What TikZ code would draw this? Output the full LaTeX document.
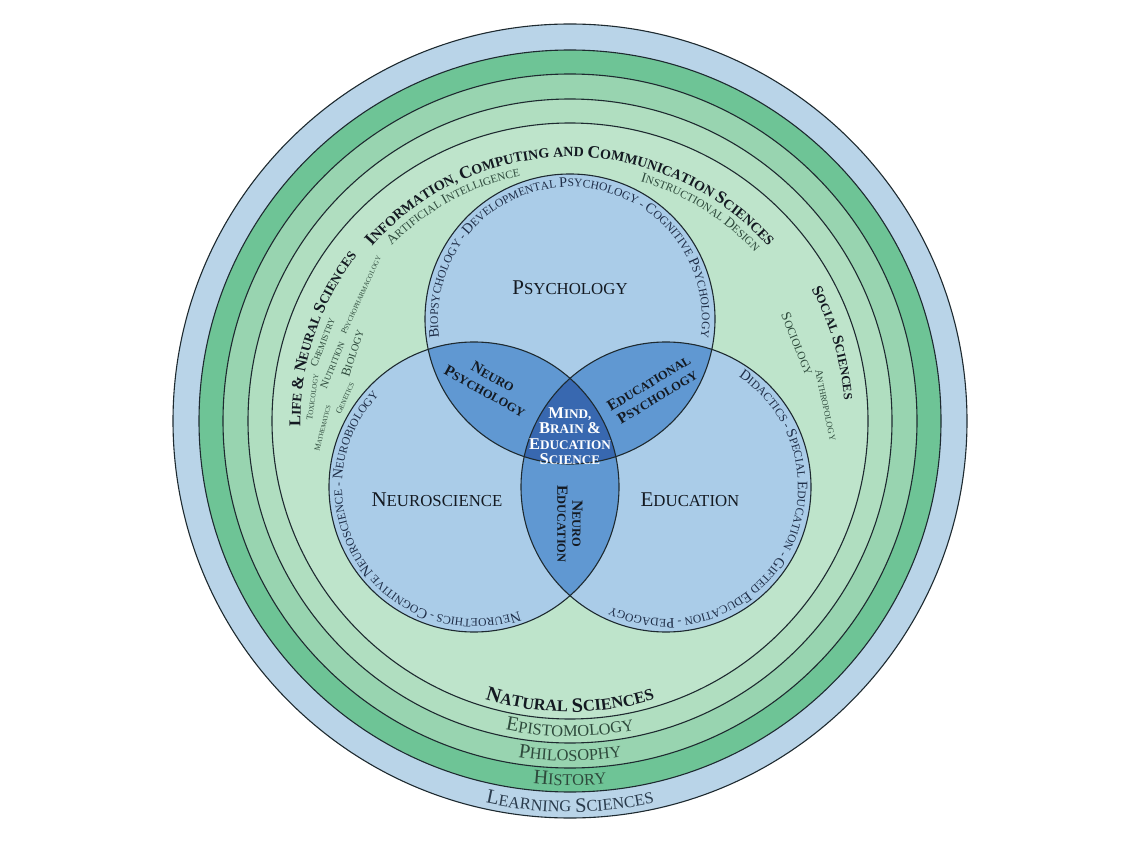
\documentclass[tikz,border=0pt]{standalone}
\usepackage{fontspec}
\setmainfont{Liberation Serif}
\usetikzlibrary{decorations.text}
\definecolor{lsblue}{HTML}{B9D4E8}
\definecolor{histg}{HTML}{6EC496}
\definecolor{philg}{HTML}{98D4B0}
\definecolor{episg}{HTML}{B0DEC0}
\definecolor{natg}{HTML}{BEE4CB}
\definecolor{vlight}{HTML}{AACCE8}
\definecolor{vmid}{HTML}{6098D2}
\definecolor{vdark}{HTML}{3868B0}
\definecolor{edge}{HTML}{1E2A30}
\definecolor{tdark}{HTML}{141A22}
\definecolor{tnavy}{HTML}{1F2E48}
\definecolor{tgreen}{HTML}{2E4A3C}
\definecolor{tslate}{HTML}{2A3B4C}
\newcommand\Tx[3]{#1\color{#2}\fontsize{#3}{#3}\selectfont}
\newcommand\Fz[2]{\fontsize{#1}{#2}\selectfont}
\newcommand\arctext[5]{\path[decorate,decoration={text along path,text align=center,text={#5}}] (#1) ++(#3:#2) arc[start angle=#3,end angle=#4,radius=#2];}
\newcommand\bigN{\Tx\mdseries{tnavy}{14.5}}
\newcommand\smN{\Tx\mdseries{tnavy}{11.6}}
\newcommand\bigG{\Tx\mdseries{tgreen}{20.5}}
\newcommand\smG{\Tx\mdseries{tgreen}{16.4}}
\newcommand\bigD{\Tx\bfseries{tdark}{20.5}}
\newcommand\smD{\Tx\bfseries{tdark}{16.4}}
\newcommand\bigI{\Tx\bfseries{tdark}{17.5}}
\newcommand\smI{\Tx\bfseries{tdark}{14}}
\newcommand\bigL{\Tx\bfseries{tdark}{16.5}}
\newcommand\smL{\Tx\bfseries{tdark}{13.2}}
\newcommand\bigS{\Tx\bfseries{tdark}{15.5}}
\newcommand\smS{\Tx\bfseries{tdark}{12.4}}
\newcommand\bigA{\Tx\mdseries{tgreen}{14}}
\newcommand\smA{\Tx\mdseries{tgreen}{11.2}}
\begin{document}
\begin{tikzpicture}[x=1pt,y=1pt,
  ring/.style={draw=edge,line width=1.1pt},
  venn/.style={draw=edge,line width=1.1pt},
  sm/.style={inner sep=0pt,text=tgreen},
  vlabel/.style={inner sep=0pt,text=tdark},
  lens/.style={inner sep=0pt,text=tdark,align=center,font=\bfseries\fontsize{15.5}{16.5}\selectfont},
  lensv/.style={inner sep=0pt,text=tdark,align=center,font=\bfseries\fontsize{15.5}{15}\selectfont},
  mbe/.style={inner sep=0pt,text=white,align=center,font=\bfseries\fontsize{16.5}{15.5}\selectfont}]
\useasboundingbox (0,0) rectangle (1140,855);
\fill[white] (0,0) rectangle (1140,855);
\coordinate (C) at (570,434);
% rings
\path[ring,fill=lsblue] (C) circle[radius=397];
\path[ring,fill=histg] (C) circle[radius=371];
\path[ring,fill=philg] (C) circle[radius=347];
\path[ring,fill=episg] (C) circle[radius=322];
\path[ring,fill=natg] (C) circle[radius=298];
% venn
\coordinate (P) at (570,536);
\coordinate (N) at (474,368);
\coordinate (E) at (666,368);
\def\vr{145}
\fill[vlight] (P) circle[radius=\vr];
\fill[vlight] (N) circle[radius=\vr];
\fill[vlight] (E) circle[radius=\vr];
\begin{scope}
  \clip (P) circle[radius=\vr];
  \fill[vmid] (N) circle[radius=\vr];
  \fill[vmid] (E) circle[radius=\vr];
\end{scope}
\begin{scope}
  \clip (N) circle[radius=\vr];
  \fill[vmid] (E) circle[radius=\vr];
\end{scope}
\begin{scope}
  \clip (P) circle[radius=\vr];
  \clip (N) circle[radius=\vr];
  \fill[vdark] (E) circle[radius=\vr];
\end{scope}
\draw[venn] (P) circle[radius=\vr];
\draw[venn] (N) circle[radius=\vr];
\draw[venn] (E) circle[radius=\vr];
% bottom ring labels
\arctext{C}{291}{215}{325}{|\bigD|N|\smD|ATURAL |\bigD|S|\smD|CIENCES}
\arctext{C}{315.5}{215}{325}{|\bigG|E|\smG|PISTOMOLOGY}
\arctext{C}{340}{215}{325}{|\bigG|P|\smG|HILOSOPHY}
\arctext{C}{364.5}{215}{325}{|\bigG|H|\smG|ISTORY}
\arctext{C}{391}{215}{325}{|\Tx\mdseries{tslate}{20.5}|L|\Tx\mdseries{tslate}{16.4}|EARNING |\Tx\mdseries{tslate}{20.5}|S|\Tx\mdseries{tslate}{16.4}|CIENCES}
% section titles
\arctext{C}{264}{160}{20}{|\bigI|I|\smI|NFORMATION, |\bigI|C|\smI|OMPUTING AND |\bigI|C|\smI|OMMUNICATION |\bigI|S|\smI|CIENCES}
\arctext{C}{250}{160}{77}{|\bigA|A|\smA|RTIFICIAL |\bigA|I|\smA|NTELLIGENCE}
\arctext{C}{250}{100}{16}{|\bigA|I|\smA|NSTRUCTIONAL |\bigA|D|\smA|ESIGN}
\arctext{C}{269.5}{200}{123.5}{|\bigL|L|\smL|IFE |\bigL|{\&} |\bigL|N|\smL|EURAL |\bigL|S|\smL|CIENCES}
\arctext{C}{275}{50}{-17}{|\bigS|S|\smS|OCIAL |\bigS|S|\smS|CIENCES}
% circle texts
\arctext{P}{132}{200}{-20}{|\bigN|B|\smN|IOPSYCHOLOGY - |\bigN|D|\smN|EVELOPMENTAL |\bigN|P|\smN|SYCHOLOGY - |\bigN|C|\smN|OGNITIVE |\bigN|P|\smN|SYCHOLOGY}
\arctext{N}{132}{323}{103}{|\bigN|N|\smN|EUROETHICS - |\bigN|C|\smN|OGNITIVE |\bigN|N|\smN|EUROSCIENCE - |\bigN|N|\smN|EUROBIOLOGY}
\arctext{E}{132}{81}{-139}{|\bigN|D|\smN|IDACTICS - |\bigN|S|\smN|PECIAL |\bigN|E|\smN|DUCATION - |\bigN|G|\smN|IFTED |\bigN|E|\smN|DUCATION - |\bigN|P|\smN|EDAGOGY}
% small subject labels
\node[sm,rotate=65.4] (psph) at (361,560) {\Fz{8.5}{9}P\Fz{6.8}{9}SYCHOPHARMACOLOGY};
\node[sm,rotate=69] (chem) at (322.5,512.5) {\Fz{10.9}{11}C\Fz{8.7}{11}HEMISTRY};
\node[sm,rotate=72] (bio) at (352.5,502) {\Fz{13}{13}B\Fz{10.4}{13}IOLOGY};
\node[sm,rotate=68.5] (nutr) at (332.5,490) {\Fz{11}{11}N\Fz{8.8}{11}UTRITION};
\node[sm,rotate=82] (tox) at (312.5,458) {\Fz{8.8}{9}T\Fz{7}{9}OXICOLOGY};
\node[sm,rotate=66] (gen) at (345,457) {\Fz{8.5}{9}G\Fz{6.8}{9}ENETICS};
\node[sm,rotate=76] (math) at (322.5,427) {\Fz{8}{8}M\Fz{6.4}{8}ATHEMATICS};
\node[sm,rotate=-68] (soc) at (797.5,511) {\Fz{14}{14}S\Fz{11.2}{14}OCIOLOGY};
\node[sm,rotate=-78] (anth) at (826,450) {\Fz{10.8}{11}A\Fz{8.6}{11}NTHROPOLOGY};
% venn labels
\node[vlabel] (psy) at (570,567) {\Fz{21}{21}P\Fz{16.8}{21}SYCHOLOGY};
\node[vlabel] (neu) at (437,355) {\Fz{21}{21}N\Fz{16.8}{21}EUROSCIENCE};
\node[vlabel] (edu) at (690,355) {\Fz{21}{21}E\Fz{16.8}{21}DUCATION};
\node[lens,rotate=-29] (np) at (489,471) {N\Fz{12.4}{16.5}EURO\\\Fz{15.5}{16.5}P\Fz{12.4}{16.5}SYCHOLOGY};
\node[lens,rotate=31] (ep) at (653,465) {E\Fz{12.4}{16.5}DUCATIONAL\\\Fz{15.5}{16.5}P\Fz{12.4}{16.5}SYCHOLOGY};
\node[lensv,rotate=-90] (ne) at (570,331) {N\Fz{12.4}{15}EURO\\\Fz{15.5}{15}E\Fz{12.4}{15}DUCATION};
\node[mbe] (mbe) at (570,419) {M\Fz{13.2}{15.5}IND,\\\Fz{16.5}{15.5}B\Fz{13.2}{15.5}RAIN \Fz{16.5}{15.5}\&\\\Fz{16.5}{15.5}E\Fz{13.2}{15.5}DUCATION\\\Fz{16.5}{15.5}S\Fz{13.2}{15.5}CIENCE};
\end{tikzpicture}
\end{document}
